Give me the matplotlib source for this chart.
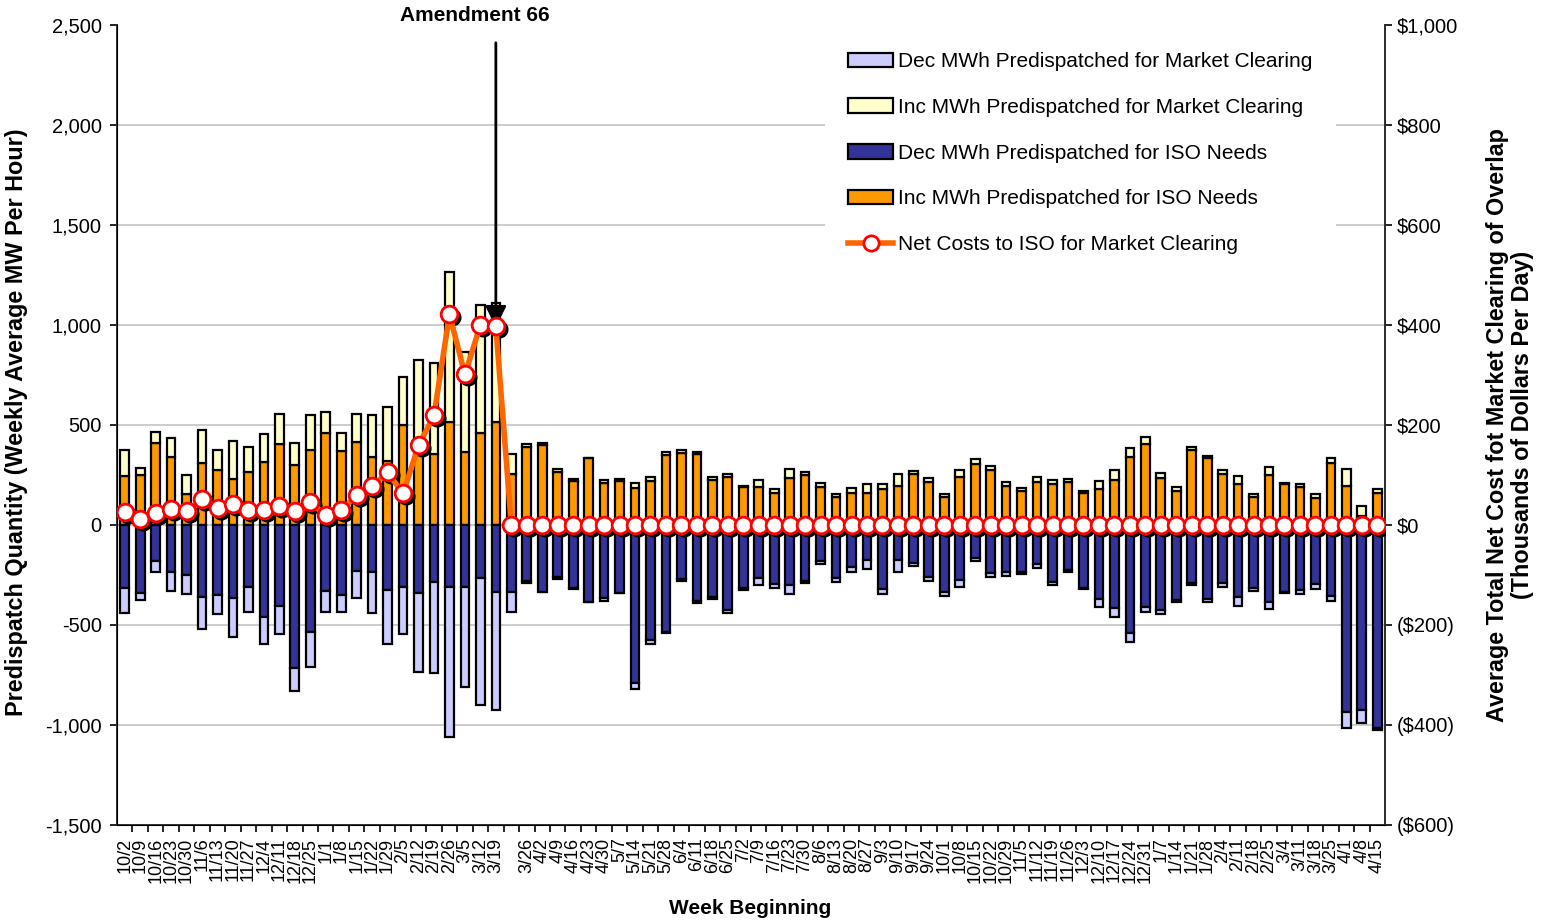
import matplotlib
matplotlib.use("Agg")
import matplotlib.pyplot as plt
from matplotlib import font_manager
from matplotlib.lines import Line2D
from matplotlib.patches import Patch
from matplotlib.ticker import FuncFormatter
from matplotlib.transforms import offset_copy
import numpy as np

# 82 slots on the category axis; the slot right after the amendment has no date label
weeks = ["10/2", "10/9", "10/16", "10/23", "10/30", "11/6", "11/13", "11/20", "11/27",
         "12/4", "12/11", "12/18", "12/25", "1/1", "1/8", "1/15", "1/22", "1/29", "2/5",
         "2/12", "2/19", "2/26", "3/5", "3/12", "3/19", "", "3/26", "4/2", "4/9", "4/16",
         "4/23", "4/30", "5/7", "5/14", "5/21", "5/28", "6/4", "6/11", "6/18", "6/25",
         "7/2", "7/9", "7/16", "7/23", "7/30", "8/6", "8/13", "8/20", "8/27", "9/3",
         "9/10", "9/17", "9/24", "10/1", "10/8", "10/15", "10/22", "10/29", "11/5",
         "11/12", "11/19", "11/26", "12/3", "12/10", "12/17", "12/24", "12/31", "1/7",
         "1/14", "1/21", "1/28", "2/4", "2/11", "2/18", "2/25", "3/4", "3/11", "3/18",
         "3/25", "4/1", "4/8", "4/15"]

# MW, stacked upward from zero
inc_iso = [247, 250, 408, 342, 153, 308, 275, 228, 267, 317, 405, 300, 375, 462, 370,
           417, 338, 322, 500, 380, 353, 513, 367, 458, 513, 255, 388, 400, 263, 222,
           337, 212, 222, 183, 222, 350, 358, 355, 225, 240, 188, 188, 160, 237, 250,
           192, 142, 162, 162, 180, 195, 253, 213, 138, 238, 305, 275, 195, 172, 217,
           205, 215, 158, 178, 225, 338, 405, 235, 172, 375, 335, 253, 205, 142, 250,
           205, 188, 133, 312, 195, 45, 162]
inc_mkt = [128, 33, 55, 95, 95, 165, 100, 194, 125, 140, 148, 112, 175, 101, 88,
           138, 212, 266, 238, 445, 455, 750, 500, 642, 595, 98, 17, 8, 15, 10,
           0, 13, 6, 27, 20, 17, 17, 12, 17, 15, 8, 37, 22, 43, 15,
           20, 15, 22, 44, 25, 59, 17, 24, 17, 35, 25, 22, 22, 11, 25,
           22, 14, 13, 42, 50, 49, 33, 27, 16, 17, 11, 22, 40, 13, 38,
           3, 17, 22, 25, 83, 50, 18]
# MW, stacked downward from zero
dec_iso = [-313, -338, -180, -237, -250, -358, -350, -363, -308, -458, -405, -717, -533,
           -328, -350, -228, -233, -325, -308, -342, -283, -312, -308, -263, -333, -337,
           -280, -333, -258, -317, -387, -367, -338, -792, -575, -535, -270, -380, -360,
           -425, -317, -265, -296, -300, -278, -179, -267, -210, -175, -321, -176, -188,
           -258, -337, -275, -163, -238, -233, -233, -193, -286, -225, -315, -370, -415,
           -540, -408, -423, -375, -288, -372, -292, -362, -317, -383, -335, -325, -295,
           -355, -933, -925, -1015]
dec_mkt = [-125, -37, -53, -91, -97, -160, -95, -195, -125, -137, -142, -111, -175,
           -105, -87, -139, -209, -270, -239, -391, -455, -750, -500, -637, -592, -100,
           -12, -4, -12, -5, 0, -13, -4, -28, -22, -7, -12, -10, -9,
           -15, -7, -35, -21, -45, -14, -15, -16, -24, -45, -25, -57, -15,
           -20, -18, -37, -17, -20, -22, -12, -24, -14, -10, -7, -38, -47,
           -43, -29, -23, -12, -12, -11, -20, -41, -13, -37, -3, -20, -25,
           -23, -84, -63, -8]
# thousands of dollars per day
net_cost = [25, 11, 23, 31, 28, 51, 33, 42, 30, 30, 38, 27, 45, 20, 29, 59, 77, 105,
            63, 159, 219, 421, 301, 400, 397] + [0] * 57

amendment_week = "3/19"

names = {f.name for f in font_manager.fontManager.ttflist}
base_font = "Liberation Sans" if "Liberation Sans" in names else "DejaVu Sans"
narrow_font = "Liberation Sans Narrow" if "Liberation Sans Narrow" in names else base_font
plt.rcParams["font.family"] = base_font

fig = plt.figure(figsize=(15.47, 9.22), dpi=100)
ax = fig.add_axes([117 / 1547, 1 - 825 / 922, 1268 / 1547, 800 / 922])

x = np.arange(len(weeks))
w = 0.56
edge = dict(edgecolor="black", linewidth=1.6, zorder=3)
ax.bar(x, inc_iso, w, color="#FF9900", **edge)
ax.bar(x, inc_mkt, w, bottom=inc_iso, color="#FFFFCC", **edge)
ax.bar(x, dec_iso, w, color="#333399", **edge)
ax.bar(x, dec_mkt, w, bottom=dec_iso, color="#CCCCFF", **edge)

ax.set_xlim(-0.5, len(weeks) - 0.5)
ax.set_ylim(-1500, 2500)
ax.set_yticks(np.arange(-1500, 2501, 500))
ax.yaxis.set_major_formatter(FuncFormatter(lambda v, p: f"{v:,.0f}"))
ax.set_axisbelow(True)
for v in np.arange(-1000, 2001, 500):
    ax.axhline(v, color="#C8C8C8", lw=1.3, zorder=0)

ax.set_xticks(x)
ax.set_xticklabels(weeks, rotation=90, fontsize=13)
ax.set_xticks(x[:-1] + 0.5, minor=True)
ax.tick_params(axis="x", which="major", length=0, pad=9)
ax.tick_params(axis="x", which="minor", length=5, width=1.2, direction="out")
ax.tick_params(axis="y", labelsize=14.5, length=5, width=1.2, direction="out", pad=6)

ax.spines["top"].set_visible(False)
for s in ["left", "right", "bottom"]:
    ax.spines[s].set_color("#303030")
    ax.spines[s].set_linewidth(1.4)

ax2 = ax.twinx()
ax2.set_ylim(-600, 1000)
ax2.set_yticks(np.arange(-600, 1001, 200))
ax2.yaxis.set_major_formatter(
    FuncFormatter(lambda v, p: f"${v:,.0f}" if v >= 0 else f"(${-v:,.0f})"))
ax2.tick_params(axis="y", labelsize=14.5, length=5, width=1.2, direction="out")
ax2.spines["top"].set_visible(False)
ax2.spines["right"].set_color("#303030")
ax2.spines["right"].set_linewidth(1.4)

shadow = offset_copy(ax2.transData, fig=fig, x=3, y=-3, units="dots")
ax2.plot(x, net_cost, "o", ms=12, color="black", transform=shadow, zorder=4)
ax2.plot(x, net_cost, "-o", color="#FF6600", lw=4, ms=12, mfc="white",
         mec="#FF0000", mew=2, zorder=5)

ai = weeks.index(amendment_week)
ax.annotate("", xy=(ai, 975), xytext=(ai, 2425),
            arrowprops=dict(arrowstyle="-|>", mutation_scale=32, lw=2, color="black"),
            zorder=6)
ax.text(ai - 1.35, 2545, "Amendment 66", ha="center", va="center",
        fontsize=15, fontweight="bold")

handles = [
    Patch(facecolor="#CCCCFF", edgecolor="black", lw=1.6),
    Patch(facecolor="#FFFFCC", edgecolor="black", lw=1.6),
    Patch(facecolor="#333399", edgecolor="black", lw=1.6),
    Patch(facecolor="#FF9900", edgecolor="black", lw=1.6),
    Line2D([], [], color="#FF6600", lw=4, marker="o", ms=11, mfc="white",
           mec="#FF0000", mew=2),
]
labels = ["Dec MWh Predispatched for Market Clearing",
          "Inc MWh Predispatched for Market Clearing",
          "Dec MWh Predispatched for ISO Needs",
          "Inc MWh Predispatched for ISO Needs",
          "Net Costs to ISO for Market Clearing"]
leg = ax2.legend(handles, labels, loc="upper left",
                 bbox_to_anchor=(815 / 1547, 1 - 19 / 922),
                 bbox_transform=fig.transFigure, fontsize=15, frameon=True,
                 facecolor="white", edgecolor="none", framealpha=1,
                 labelspacing=1.28, handlelength=2.15, handleheight=0.7,
                 handletextpad=0.25, borderpad=1.1, fancybox=False)
leg.set_zorder(10)

fig.text(17 / 1547, 1 - 422 / 922, "Predispatch Quantity (Weekly Average MW Per Hour)",
         rotation=90, ha="center", va="center", fontsize=16.8, fontweight="bold",
         family=narrow_font)
fig.text(1510 / 1547, 1 - 425 / 922,
         "Average Total Net Cost fot Market Clearing of Overlap\n(Thousands of Dollars Per Day)",
         rotation=90, ha="center", va="center", fontsize=16.8, fontweight="bold",
         family=narrow_font, multialignment="center", linespacing=1.1)
fig.text(750 / 1547, 1 - 908 / 922, "Week Beginning", ha="center", va="center",
         fontsize=15, fontweight="bold")

fig.savefig("out.png", dpi=100)
